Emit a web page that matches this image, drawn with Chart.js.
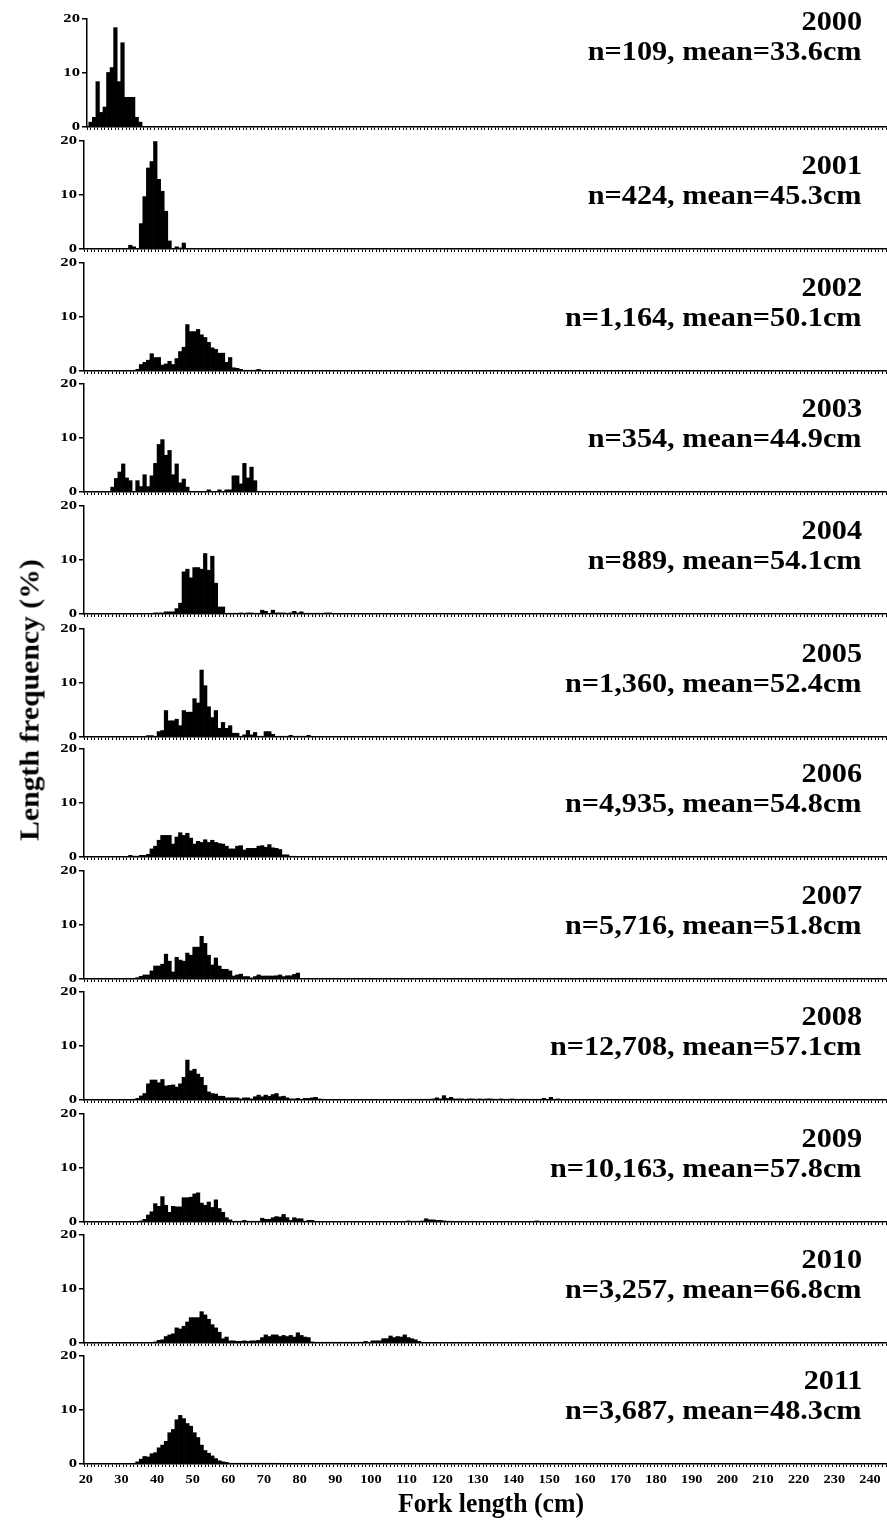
<!DOCTYPE html>
<html lang="en">

<head>
    <meta charset="UTF-8" />
    <title>Fork length frequency 2000-2011</title>
    <style>
        body { margin: 0; background: #fff; }
        #page { position: relative; width: 887px; height: 1522px; overflow: hidden; }
        #page canvas { position: absolute; left: 0; }
        .lbl {
            position: absolute; white-space: nowrap; color: #000;
            font-family: "Liberation Serif", "Times New Roman", serif; font-weight: bold;
        }
        .yr { right: 25px; font-size: 28px; transform-origin: right center; transform: translateY(-50%) scaleX(1.08); }
        .ytitle { left: 30px; top: 700px; font-size: 27px; transform: translate(-50%, -50%) rotate(-90deg) scaleX(1.1); }
        .xtitle { left: 491px; top: 1503px; font-size: 28px; transform: translate(-50%, -50%) scaleX(0.92); }
    </style>
</head>

<body>
    <div id="page"></div>

    <script src="https://cdn.jsdelivr.net/npm/chart.js"></script>
    <script>
        // ---- dados ----
        const years = ['2000', '2001', '2002', '2003', '2004', '2005', '2006', '2007', '2008', '2009', '2010', '2011'];
        const sampleSizes = ['109', '424', '1,164', '354', '889', '1,360', '4,935', '5,716', '12,708', '10,163', '3,257', '3,687'];
        const means = ['33.6', '45.3', '50.1', '44.9', '54.1', '52.4', '54.8', '51.8', '57.1', '57.8', '66.8', '48.3'];
        const yTicks = [0, 10, 20];
        const xTickLabels = [20, 30, 40, 50, 60, 70, 80, 90, 100, 110, 120, 130, 140, 150, 160, 170, 180, 190, 200, 210, 220, 230, 240];

        // first length class (cm) of each year's array, 1 cm classes
        const binStarts = [20, 32, 34, 27, 39, 37, 32, 34, 33, 35, 39, 34];

        const freq2000 = [0.9, 1.8, 8.4, 2.7, 3.7, 10.1, 11.0, 18.4, 8.4, 15.6, 5.5, 5.5, 5.5, 1.8, 0.9];
        const freq2001 = [0.7, 0.4, 0, 4.7, 9.7, 15.0, 16.2, 19.9, 12.9, 10.7, 7.0, 1.5, 0, 0.4, 0.2, 1.1];
        const freq2002 = [0.3, 1.2, 1.6, 2.0, 3.2, 2.5, 2.5, 1.1, 1.3, 1.8, 1.2, 2.3, 3.6, 4.4, 8.6, 7.3, 7.3, 7.7, 6.7, 6.2,
            5.3, 4.3, 4.0, 3.3, 3.3, 1.6, 2.5, 0.6, 0.5, 0.3, 0.1, 0.1, 0.1, 0.1, 0.3];
        const freq2003 = [0.9, 2.5, 3.7, 5.2, 2.6, 2.1, 0, 2.1, 1.0, 3.2, 1.0, 3.0, 5.3, 8.8, 9.7, 6.8, 7.7, 3.2, 5.2, 1.7,
            2.4, 0.9, 0, 0, 0, 0, 0, 0.4, 0, 0, 0.4, 0, 0.4, 0.4, 3.0, 3.0, 1.5, 5.3, 2.6, 4.6, 2.1];
        const freq2004 = [0.2, 0.2, 0.2, 0.4, 0.4, 0.4, 1.0, 2.0, 7.8, 8.3, 6.7, 8.6, 8.6, 8.3, 11.2, 8.1, 10.7, 5.7, 1.3, 1.3,
            0.1, 0.1, 0.1, 0.1, 0.2, 0.1, 0.2, 0.2, 0.1, 0.1, 0.7, 0.5, 0.1, 0.7, 0.2, 0.2, 0.2, 0.1, 0.2, 0.5,
            0.2, 0.4, 0.1, 0.1, 0.1, 0.1, 0.1, 0.1, 0.2, 0.2];
        const freq2005 = [0.25, 0.25, 0.1, 1.0, 1.2, 4.9, 3.0, 3.0, 3.3, 2.1, 4.9, 4.6, 4.6, 7.1, 6.3, 12.4, 9.5, 5.6, 3.6, 4.9,
            1.6, 2.7, 1.6, 2.1, 0.7, 0.7, 0.1, 0.4, 1.2, 0.4, 0.85, 0.1, 0.1, 1.0, 1.0, 0.5, 0.1, 0.1, 0.1, 0.1,
            0.3, 0.1, 0.1, 0.1, 0.1, 0.3];
        const freq2006 = [0.3, 0.15, 0.15, 0.3, 0.3, 0.5, 1.5, 2.0, 3.1, 4.0, 4.0, 4.0, 2.4, 3.7, 4.5, 4.0, 4.4, 3.5, 2.4, 2.9,
            2.7, 3.2, 2.7, 3.1, 2.7, 2.5, 2.4, 2.0, 1.5, 1.5, 2.0, 2.1, 1.3, 1.6, 1.6, 1.6, 2.0, 2.1, 1.8, 2.3,
            1.7, 1.6, 1.4, 0.4, 0.4, 0.1, 0.1];
        const freq2007 = [0.25, 0.5, 0.75, 0.75, 1.5, 2.4, 2.4, 2.75, 4.6, 3.3, 1.3, 4.0, 3.5, 3.3, 4.8, 4.4, 5.9, 5.9, 7.9, 6.6,
            4.4, 2.6, 3.9, 2.4, 1.8, 1.8, 1.5, 0.55, 0.75, 0.9, 0.45, 0.45, 0.2, 0.45, 0.75, 0.55, 0.55, 0.55, 0.55, 0.6,
            0.75, 0.45, 0.6, 0.6, 0.85, 1.1];
        const freq2008 = [0.1, 0.3, 0.75, 1.2, 3.0, 3.7, 3.7, 3.2, 3.8, 2.6, 2.7, 2.8, 2.4, 3.0, 4.2, 7.4, 5.4, 5.7, 4.8, 4.2,
            2.7, 1.5, 1.2, 1.1, 0.7, 0.7, 0.4, 0.4, 0.4, 0.4, 0.2, 0.4, 0.4, 0.2, 0.6, 0.9, 0.6, 0.9, 0.7, 1.0,
            1.2, 0.6, 0.7, 0.4, 0.2, 0.2, 0.3, 0.1, 0.3, 0.3, 0.4, 0.5, 0.2, 0.1, 0, 0, 0, 0, 0, 0,
            0, 0, 0, 0, 0, 0, 0, 0, 0, 0, 0, 0, 0, 0, 0, 0, 0, 0.1, 0.1, 0.1,
            0.1, 0.1, 0.1, 0.1, 0.2, 0.4, 0.2, 0.8, 0.3, 0.5, 0.2, 0.2, 0.2, 0.1, 0.2, 0.2, 0.1, 0.2, 0.1, 0.2,
            0.2, 0.1, 0.1, 0.2, 0.1, 0.1, 0.2, 0.1, 0.1, 0.1, 0.1, 0.1, 0.1, 0.1, 0.1, 0.3, 0.1, 0.5, 0.1, 0.2];
        const freq2009 = [0.2, 0.5, 1.3, 1.9, 3.4, 2.9, 4.7, 3.1, 1.8, 2.9, 2.8, 2.8, 4.5, 4.5, 4.6, 5.2, 5.4, 3.5, 3.1, 3.7,
            2.7, 4.1, 2.5, 1.8, 0.8, 0.4, 0.1, 0.1, 0.1, 0.3, 0.1, 0.1, 0.1, 0.1, 0.7, 0.5, 0.5, 0.8, 1.0, 0.9,
            1.4, 0.8, 0.3, 0.8, 0.6, 0.6, 0.1, 0.3, 0.3, 0, 0, 0, 0, 0, 0, 0, 0, 0, 0, 0,
            0, 0, 0, 0, 0, 0, 0, 0, 0, 0, 0, 0, 0, 0, 0, 0.2, 0.1, 0.1, 0.1, 0.2,
            0.6, 0.4, 0.4, 0.3, 0.3, 0.2, 0.1, 0.1, 0, 0, 0.1, 0, 0, 0.1, 0, 0, 0, 0, 0, 0,
            0, 0, 0, 0, 0, 0, 0, 0, 0, 0, 0, 0.2];
        const freq2010 = [0.2, 0.5, 0.6, 1.2, 1.5, 1.7, 2.8, 2.6, 3.1, 3.9, 4.7, 4.7, 4.7, 5.8, 5.2, 4.4, 3.4, 2.8, 2.0, 0.8,
            1.1, 0.4, 0.4, 0.3, 0.3, 0.4, 0.3, 0.4, 0.4, 0.5, 1.0, 1.5, 1.2, 1.5, 1.5, 1.2, 1.4, 1.2, 1.4, 1.1,
            1.9, 1.4, 1.1, 1.0, 0.2, 0.05, 0.05, 0.05, 0.05, 0.05, 0.05, 0.05, 0.05, 0.05, 0.05, 0.05, 0.05, 0.05, 0.05, 0.3,
            0.1, 0.4, 0.4, 0.4, 0.8, 0.8, 1.3, 1.0, 1.2, 1.1, 1.5, 1.0, 0.8, 0.6, 0.3, 0.1];
        const freq2011 = [0.4, 0.9, 1.4, 1.3, 1.9, 2.1, 3.0, 3.5, 4.2, 5.8, 6.4, 8.2, 9.0, 8.4, 7.5, 7.0, 5.8, 4.9, 3.5, 2.5,
            2.0, 1.5, 1.0, 0.6, 0.4, 0.3, 0.1, 0.1, 0.1, 0.1, 0.1, 0.1, 0.1, 0.1, 0.1, 0.1, 0.1, 0.1, 0.1, 0.1];

        const freqs = [freq2000, freq2001, freq2002, freq2003, freq2004, freq2005,
            freq2006, freq2007, freq2008, freq2009, freq2010, freq2011];

        // ---- layout (px) ----
        const zeroLines = [126.7, 249, 370.7, 492.3, 614.3, 736.7, 856.7, 979, 1100, 1222, 1343, 1464];
        const axisLefts = [87, 84, 84, 84, 84, 84, 84, 84, 84, 84, 84, 84];
        const plotH = 108;
        const padTop = 14;
        const plotRight = 886;
        const FONT = '"Liberation Serif", "Times New Roman", serif';

        // tick labels are stretched horizontally like in the original figure
        const stretchedLabels = {
            id: 'stretchedLabels',
            afterDraw(chart, args, opts) {
                const ctx = chart.ctx;
                const ys = chart.scales.y, xs = chart.scales.x;
                ctx.save();
                ctx.fillStyle = '#000';
                ctx.font = 'bold 13px ' + FONT;
                ctx.textBaseline = 'middle';
                ctx.textAlign = 'right';
                yTicks.forEach(v => {
                    ctx.save();
                    ctx.translate(ys.right - 7, ys.getPixelForValue(v));
                    ctx.scale(1.28, 1);
                    ctx.fillText(String(v), 0, 0);
                    ctx.restore();
                });
                if (opts.showX) {
                    ctx.textAlign = 'center';
                    ctx.textBaseline = 'top';
                    xTickLabels.forEach(v => {
                        ctx.save();
                        ctx.translate(xs.getPixelForValue(v), xs.top + 9);
                        ctx.scale(1.1, 1);
                        ctx.fillText(String(v), 0, 0);
                        ctx.restore();
                    });
                }
                ctx.restore();
            }
        };

        const page = document.getElementById('page');

        years.forEach((yr, i) => {
            const last = i === years.length - 1;
            const bottomH = last ? 30 : 5;
            const cv = document.createElement('canvas');
            cv.width = 887;
            cv.height = padTop + plotH + bottomH;
            cv.style.top = (zeroLines[i] - plotH - padTop) + 'px';
            page.appendChild(cv);

            const points = freqs[i].map((v, k) => ({ x: binStarts[i] + k + 0.5, y: v }));

            new Chart(cv.getContext('2d'), {
                type: 'bar',
                data: {
                    datasets: [{
                        data: points,
                        backgroundColor: '#000',
                        borderWidth: 0,
                        barPercentage: 1,
                        categoryPercentage: 1
                    }]
                },
                options: {
                    responsive: false,
                    animation: false,
                    events: [],
                    layout: { padding: { top: padTop, right: 887 - plotRight, left: 0, bottom: 0 } },
                    plugins: {
                        legend: { display: false },
                        tooltip: { enabled: false },
                        stretchedLabels: { showX: last }
                    },
                    scales: {
                        x: {
                            type: 'linear',
                            min: 20,
                            max: 244,
                            afterFit: s => { s.height = bottomH; },
                            ticks: { stepSize: 1, autoSkip: false, display: false },
                            grid: { drawOnChartArea: false, tickLength: 3, color: '#000', lineWidth: 1 },
                            border: { color: '#000', width: 1.5 }
                        },
                        y: {
                            min: 0,
                            max: 20,
                            afterFit: s => { s.width = axisLefts[i]; },
                            ticks: { stepSize: 10, display: false },
                            grid: { drawOnChartArea: false, tickLength: 5, color: '#000', lineWidth: 1.5 },
                            border: { color: '#000', width: 1.5 }
                        }
                    }
                },
                plugins: [stretchedLabels]
            });

            // year and sample size labels
            const top = zeroLines[i] - plotH;
            const yearOffset = i === 0 ? 2 : 24;
            const l1 = document.createElement('div');
            l1.className = 'lbl yr';
            l1.style.top = (top + yearOffset) + 'px';
            l1.textContent = yr;
            page.appendChild(l1);
            const l2 = document.createElement('div');
            l2.className = 'lbl yr';
            l2.style.top = (top + yearOffset + 30) + 'px';
            l2.textContent = 'n=' + sampleSizes[i] + ', mean=' + means[i] + 'cm';
            page.appendChild(l2);
        });

        const yt = document.createElement('div');
        yt.className = 'lbl ytitle';
        yt.textContent = 'Length frequency (%)';
        page.appendChild(yt);

        const xt = document.createElement('div');
        xt.className = 'lbl xtitle';
        xt.textContent = 'Fork length (cm)';
        page.appendChild(xt);
    </script>

</body>

</html>
